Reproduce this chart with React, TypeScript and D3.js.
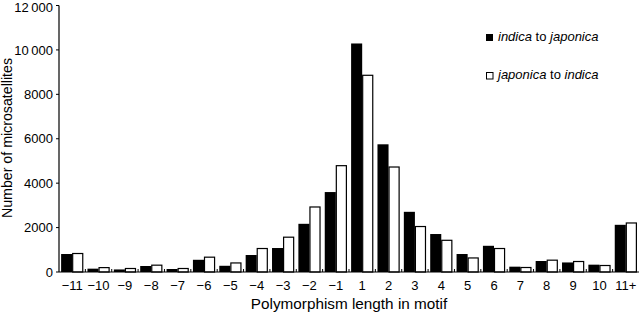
import * as React from 'react';
import * as d3 from 'd3';

const categories = ['−11', '−10', '−9', '−8', '−7', '−6', '−5', '−4', '−3', '−2', '−1', '1', '2', '3', '4', '5', '6', '7', '8', '9', '10', '11+'];
const indicaToJaponica = [810, 150, 115, 270, 135, 550, 280, 765, 1080, 2170, 3600, 10290, 5750, 2710, 1710, 810, 1180, 240, 495, 430, 330, 2125];
const japonicaToIndica = [855, 220, 180, 330, 180, 690, 430, 1080, 1590, 2950, 4810, 8880, 4750, 2070, 1450, 655, 1080, 225, 555, 495, 315, 2230];
const yTicks = [0, 2000, 4000, 6000, 8000, 10000, 12000];

const W = 640;
const H = 316;
const margin = { top: 5.5, right: 1, bottom: 44, left: 59 };
const font = 'Liberation Sans, Arial, sans-serif';

const fmt = (v: number) => (v >= 10000 ? `${Math.floor(v / 1000)}\u2009${String(v % 1000).padStart(3, '0')}` : String(v));

export default function App() {
  const x = d3.scaleBand<string>().domain(categories).range([margin.left, W - margin.right]).paddingInner(0.16).paddingOuter(0.08);
  const y = d3.scaleLinear().domain([0, 12000]).range([H - margin.bottom, margin.top]);
  const bw = x.bandwidth() / 2;
  const step = x.step();
  const y0 = y(0);

  return (
    <svg width={W} height={H} style={{ position: 'absolute', left: 0, top: 0, background: '#fff' }} fontFamily={font}>
      {categories.map((c, i) => (
        <g key={c}>
          <rect x={x(c)!} y={y(indicaToJaponica[i])} width={bw} height={y0 - y(indicaToJaponica[i])} fill="#000" />
          <rect x={x(c)! + bw + 0.5} y={y(japonicaToIndica[i]) + 0.5} width={bw - 1} height={y0 - y(japonicaToIndica[i]) - 0.5} fill="#fff" stroke="#000" strokeWidth={1.2} />
          <text x={x(c)! + x.bandwidth() / 2} y={290} fontSize={13} textAnchor="middle" fill="#000">{c}</text>
        </g>
      ))}
      {/* boundary ticks on x axis */}
      {categories.slice(1).map((c) => (
        <line key={'t' + c} x1={x(c)! - (step - x.bandwidth()) / 2} x2={x(c)! - (step - x.bandwidth()) / 2} y1={y0} y2={y0 - 3} stroke="#000" />
      ))}
      <line x1={margin.left} x2={W - margin.right} y1={y0} y2={y0} stroke="#000" strokeWidth={1.2} />
      <line x1={margin.left} x2={margin.left} y1={margin.top} y2={y0} stroke="#000" strokeWidth={1.2} />
      {yTicks.map((t) => (
        <g key={t}>
          <line x1={margin.left - 3} x2={margin.left} y1={y(t)} y2={y(t)} stroke="#000" />
          <text x={53} y={Math.max(y(t) + 4.7, 11.8)} fontSize={13} textAnchor="end" fill="#000">{fmt(t)}</text>
        </g>
      ))}
      <text x={349} y={309} fontSize={15.3} textAnchor="middle" fill="#000">Polymorphism length in motif</text>
      <text transform="translate(12,138) rotate(-90)" fontSize={14.2} textAnchor="middle" fill="#000">Number of microsatellites</text>
      {/* legend */}
      <rect x={486} y={34} width={7} height={7} fill="#000" />
      <text x={498} y={41} fontSize={13} fill="#000"><tspan fontStyle="italic">indica</tspan> to <tspan fontStyle="italic">japonica</tspan></text>
      <rect x={486.5} y={72.5} width={6.5} height={6.5} fill="#fff" stroke="#000" />
      <text x={498} y={79} fontSize={13} fill="#000"><tspan fontStyle="italic">japonica</tspan> to <tspan fontStyle="italic">indica</tspan></text>
    </svg>
  );
}
